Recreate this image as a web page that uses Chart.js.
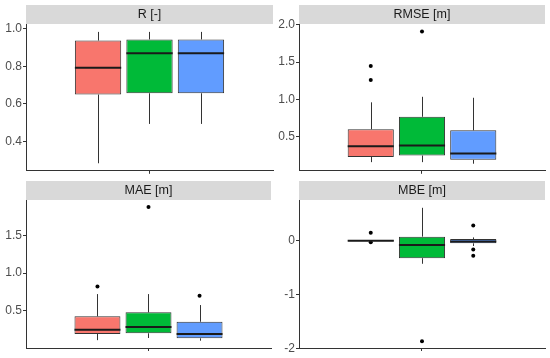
<!DOCTYPE html>
<html lang="en">
<head>
    <meta charset="UTF-8">
    <title>Boxplots R / RMSE / MAE / MBE</title>
    <script src="https://cdn.jsdelivr.net/npm/chart.js"></script>
    <style>
        body { margin: 0; background: #fff; }
        #wrap { position: relative; width: 550px; height: 358px; }
        .panel { position: absolute; width: 275px; height: 179px; }
    </style>
</head>
<body>
<div id="wrap">
    <div class="panel" style="left:0;top:0"><canvas id="c1"></canvas></div>
    <div class="panel" style="left:275px;top:0"><canvas id="c2"></canvas></div>
    <div class="panel" style="left:0;top:179px"><canvas id="c3"></canvas></div>
    <div class="panel" style="left:275px;top:179px"><canvas id="c4"></canvas></div>
</div>
<script>
    // three groups, dodged around the single x position
    const groupX = [0.75, 1, 1.25];
    const groupColors = ['#F8766D', '#00BA38', '#619CFF'];

    // box stats per group: [lower whisker, Q1, median, Q3, upper whisker]
    const rStats = [[0.285, 0.65, 0.793, 0.937, 0.983], [0.494, 0.657, 0.87, 0.943, 0.983], [0.494, 0.657, 0.87, 0.943, 0.983]];
    const rOutliers = [[], [], []];
    const rTicks = [0.4, 0.6, 0.8, 1.0];

    const rmseStats = [[0.156, 0.226, 0.368, 0.597, 0.959], [0.156, 0.245, 0.38, 0.765, 1.033], [0.135, 0.187, 0.271, 0.583, 1.02]];
    const rmseOutliers = [[1.448, 1.258], [1.91], []];
    const rmseTicks = [0.5, 1.0, 1.5, 2.0];

    const maeStats = [[0.10, 0.183, 0.24, 0.42, 0.718], [0.129, 0.192, 0.277, 0.473, 0.718], [0.093, 0.125, 0.183, 0.347, 0.571]];
    const maeOutliers = [[0.82], [1.887], [0.696]];
    const maeTicks = [0.5, 1.0, 1.5];

    const mbeStats = [[-0.01, -0.01, 0, 0.005, 0.005], [-0.43, -0.326, -0.08, 0.074, 0.61], [-0.1, -0.05, -0.018, 0.03, 0.06]];
    const mbeOutliers = [[0.148, -0.03], [-1.87], [0.28, -0.166, -0.28]];
    const mbeTicks = [-2, -1, 0];

    const FONT = "'Liberation Sans', Arial, sans-serif";
    const LINE = '#333333';

    // whiskers before the boxes, medians after
    const boxPlugin = {
        id: 'boxExtras',
        beforeDatasetsDraw(chart) {
            const ds = chart.data.datasets[0];
            const meta = chart.getDatasetMeta(0);
            const y = chart.scales.y;
            const ctx = chart.ctx;
            ctx.save();
            ctx.strokeStyle = LINE;
            ctx.lineWidth = 1;
            meta.data.forEach((bar, i) => {
                const s = ds.stats[i];
                const x = Math.round(bar.x) + 0.5;
                ctx.beginPath();
                ctx.moveTo(x, y.getPixelForValue(s[0]));
                ctx.lineTo(x, y.getPixelForValue(s[1]));
                ctx.moveTo(x, y.getPixelForValue(s[3]));
                ctx.lineTo(x, y.getPixelForValue(s[4]));
                ctx.stroke();
            });
            ctx.restore();
        },
        afterDatasetsDraw(chart) {
            const ds = chart.data.datasets[0];
            const meta = chart.getDatasetMeta(0);
            const y = chart.scales.y;
            const ctx = chart.ctx;
            ctx.save();
            ctx.strokeStyle = '#1a1a1a';
            ctx.lineWidth = 2;
            meta.data.forEach((bar, i) => {
                const py = y.getPixelForValue(ds.stats[i][2]);
                ctx.beginPath();
                ctx.moveTo(bar.x - bar.width / 2, py);
                ctx.lineTo(bar.x + bar.width / 2, py);
                ctx.stroke();
            });
            ctx.restore();
        }
    };

    // grey facet strip above the plot area
    const stripPlugin = {
        id: 'strip',
        beforeDraw(chart, args, opts) {
            const a = chart.chartArea;
            const ctx = chart.ctx;
            ctx.save();
            ctx.fillStyle = '#D9D9D9';
            ctx.fillRect(a.left, a.top - 19, a.right - a.left, 19);
            ctx.fillStyle = '#1A1A1A';
            ctx.font = '12.5px ' + FONT;
            ctx.textAlign = 'center';
            ctx.textBaseline = 'middle';
            ctx.fillText(opts.text, (a.left + a.right) / 2, a.top - 9);
            ctx.restore();
        }
    };

    function makePanel(id, title, stats, outliers, ticks, yMin, yMax, decimals, pad) {
        const points = [];
        outliers.forEach((list, i) => list.forEach(v => points.push({ x: groupX[i], y: v })));

        return new Chart(document.getElementById(id), {
            type: 'bar',
            data: {
                datasets: [{
                    type: 'bar',
                    data: groupX.map((x, i) => ({ x: x, y: [stats[i][1], stats[i][3]] })),
                    stats: stats,
                    backgroundColor: groupColors,
                    borderColor: LINE,
                    borderWidth: 1,
                    borderSkipped: false,
                    grouped: false,
                    barPercentage: 0.9,
                    categoryPercentage: 1,
                    order: 2
                }, {
                    type: 'scatter',
                    data: points,
                    pointRadius: 2,
                    pointBackgroundColor: '#000',
                    pointBorderWidth: 0,
                    order: 1
                }]
            },
            options: {
                responsive: true,
                maintainAspectRatio: false,
                animation: false,
                layout: { padding: { left: 0, right: pad.right, top: pad.top, bottom: 0 } },
                plugins: {
                    legend: { display: false },
                    tooltip: { enabled: false },
                    strip: { text: title }
                },
                scales: {
                    x: {
                        type: 'linear',
                        offset: false,
                        min: 0.4,
                        max: 1.6,
                        afterBuildTicks: s => { s.ticks = [{ value: 1 }]; },
                        afterFit: s => { s.height = pad.bottom; },
                        ticks: { display: false },
                        grid: { offset: false, drawOnChartArea: false, drawTicks: true, tickLength: 3, color: LINE },
                        border: { display: true, color: LINE, width: 1 }
                    },
                    y: {
                        min: yMin,
                        max: yMax,
                        afterBuildTicks: s => { s.ticks = ticks.map(v => ({ value: v })); },
                        afterFit: s => { s.width = pad.left; },
                        ticks: {
                            color: '#4D4D4D',
                            font: { family: FONT, size: 12 },
                            padding: 1,
                            callback: v => v.toFixed(decimals)
                        },
                        grid: { drawOnChartArea: false, drawTicks: true, tickLength: 3, color: LINE },
                        border: { display: true, color: LINE, width: 1 }
                    }
                }
            },
            plugins: [stripPlugin, boxPlugin]
        });
    }

    makePanel('c1', 'R [-]', rStats, rOutliers, rTicks, 0.245, 1.025, 1, { left: 26, right: 2, top: 24, bottom: 6 });
    makePanel('c2', 'RMSE [m]', rmseStats, rmseOutliers, rmseTicks, 0.04, 2.01, 1, { left: 24, right: 5, top: 24, bottom: 6 });
    makePanel('c3', 'MAE [m]', maeStats, maeOutliers, maeTicks, -0.005, 1.98, 1, { left: 26, right: 2, top: 21, bottom: 10 });
    makePanel('c4', 'MBE [m]', mbeStats, mbeOutliers, mbeTicks, -1.995, 0.755, 0, { left: 24, right: 5, top: 21, bottom: 10 });
</script>
</body>
</html>
